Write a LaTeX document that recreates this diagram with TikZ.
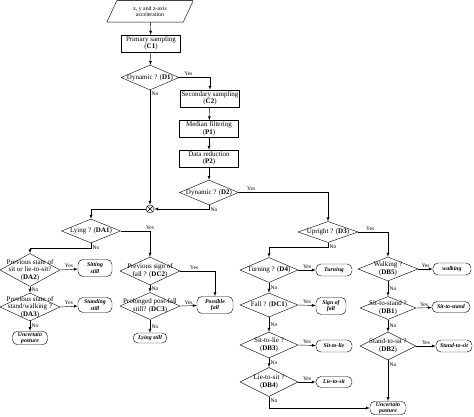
\documentclass[tikz,border=0pt]{standalone}
\usepackage{fontspec}
\setmainfont{Liberation Serif}
\usetikzlibrary{shapes.geometric}

\begin{document}
\begin{tikzpicture}[x=1pt, y=-1pt, >=latex, font=\fontsize{7}{7.5}\selectfont,
	box/.style={draw, inner sep=1pt, minimum width=59pt, minimum height=17pt, align=center},
	test/.style={diamond, draw, inner sep=0pt},
	leaf/.style={draw, rounded corners=5pt, inner sep=1pt, align=center, font=\fontsize{5.8}{6.2}\selectfont\bfseries\itshape},
	yn/.style={font=\fontsize{5.5}{5.5}\selectfont, inner sep=1.5pt}]
				\useasboundingbox (0,0) rectangle (474,417);
				% preprocessing
				\node[minimum width=76pt, minimum height=21pt, inner sep=1pt, align=center, font=\fontsize{5.8}{6.5}\selectfont] (In) at (150,11.5) {x, y and z-axis\\acceleration};
				\draw ([xshift=-5pt]In.south west) -- ([xshift=5pt]In.north west) ([xshift=5pt]In.north east) -- ([xshift=-5pt]In.south east) -- ([xshift=-5pt]In.south west);
				\draw[line width=1.2pt, black!75] ([xshift=5pt]In.north west) -- ([xshift=5pt]In.north east);
				\node[box] (C1) at (151,43.5) {Primary sampling\\(\textbf{C1})};
				\node[test, minimum width=58pt, minimum height=25pt, label={center:Dynamic ? (\textbf{D1})}] (D1) at (150,77.5) {};
				\node[box, minimum width=56pt] (C2) at (210,98.5) {Secondary sampling\\(\textbf{C2})};
				\node[box] (P1) at (209,129) {Median filtering\\(\textbf{P1})};
				\node[box] (P2) at (209,158.5) {Data reduction\\(\textbf{P2})};
				\node[test, minimum width=59pt, minimum height=25pt, label={center:Dynamic ? (\textbf{D2})}] (D2) at (209,192.5) {};
				\node[circle, draw, inner sep=0pt, minimum size=8pt] (X) at (150,209) {};
				\draw (X.north east) -- (X.south west) (X.north west) -- (X.south east);
				
				% static branch
				\node[test, minimum width=59pt, minimum height=24pt, label={center:Lying ? (\textbf{DA1})}] (DA1) at (91,231) {};
				\node[test, minimum width=60pt, minimum height=33pt, label={[align=center]center:Previous state of\\sit or lie-to-sit?\\(\textbf{DA2})}] (DA2) at (30,270) {};
				\node[test, minimum width=60pt, minimum height=28pt, label={[align=center]center:Previous state of\\stand/walking ?\\(\textbf{DA3})}] (DA3) at (30,307) {};
				\node[leaf, minimum width=34pt, minimum height=17pt] (sit) at (95,268) {Sitting\\still};
				\node[leaf, minimum width=34pt, minimum height=15pt] (stand) at (95,305) {Standing\\still};
				\node[leaf, minimum width=35pt, minimum height=13pt] (unc1) at (30,338) {Uncertain\\posture};
				\node[test, minimum width=60pt, minimum height=28pt, label={[align=center]center:Previous sign of\\fall ? (\textbf{DC2})}] (DC2) at (150,271) {};
				\node[test, minimum width=60pt, minimum height=27pt, label={[align=center]center:Prolonged post-fall\\still? (\textbf{DC3})}] (DC3) at (150,306) {};
				\node[leaf, minimum width=36pt, minimum height=17pt] (fall) at (215,305) {Possible\\fall};
				\node[leaf, minimum width=34pt, minimum height=10pt] (lie) at (150,338) {Lying still};
				
				% dynamic branch
				\node[test, minimum width=60pt, minimum height=21pt, label={center:Upright ? (\textbf{D3})}] (D3) at (328,232) {};
				\node[test, minimum width=58pt, minimum height=25pt, label={center:Turning ? (\textbf{D4})}] (D4) at (269,270) {};
				\node[leaf, minimum width=36pt, minimum height=12pt] (turn) at (334,270) {Turning};
				\node[test, minimum width=58pt, minimum height=24pt, label={center:Fall ? (\textbf{DC1})}] (DC1) at (269,305) {};
				\node[leaf, minimum width=30pt, minimum height=17pt] (sof) at (331,306) {Sign of\\fall};
				\node[test, minimum width=58pt, minimum height=26pt, label={[align=center]center:Sit-to-lie ?\\(\textbf{DB3})}] (DB3) at (269,345) {};
				\node[leaf, minimum width=36pt, minimum height=12pt] (stl) at (334,346) {Sit-to-lie};
				\node[test, minimum width=58pt, minimum height=29pt, label={[align=center]center:Lie-to-sit ?\\(\textbf{DB4})}] (DB4) at (269,382) {};
				\node[leaf, minimum width=36pt, minimum height=11pt] (lts) at (334,382) {Lie-to-sit};
				\node[test, minimum width=60pt, minimum height=24pt, label={[align=center]center:Walking ?\\(\textbf{DB5})}] (DB5) at (388,269) {};
				\node[leaf, minimum width=38pt, minimum height=12pt] (walk) at (452,269) {walking};
				\node[test, minimum width=56pt, minimum height=23pt, label={[align=center]center:Sit-to-stand ?\\(\textbf{DB1})}] (DB1) at (388,308) {};
				\node[leaf, minimum width=38pt, minimum height=11pt] (sts) at (451,307) {Sit-to-stand};
				\node[test, minimum width=56pt, minimum height=28pt, label={[align=center]center:Stand-to-sit ?\\(\textbf{DB2})}] (DB2) at (388,346) {};
				\node[leaf, minimum width=36pt, minimum height=12pt] (sts2) at (454,346) {Stand-to-sit};
				\node[leaf, minimum width=36pt, minimum height=13pt] (unc2) at (388,408) {Uncertain\\posture};
				
				% arrows
				\draw[->] (In) -- (C1);
				\draw[->] (C1) -- (D1);
				\draw[->] (D1.east) -| node[yn, above, pos=0.15] {Yes} (C2.north);
				\draw[->] (D1.south) -- node[yn, right, pos=0.03] {No} (X.north);
				\draw[->] (C2) -- (P1);
				\draw[->] (P1) -- (P2);
				\draw[->] (P2) -- (D2);
				\draw[->] (D2.east) -| node[yn, above, pos=0.07] {Yes} (D3.north);
				\draw[->] (D2.south) |- node[yn, below right, pos=0.1] {No} (X.east);
				\draw[->] (X.west) -| (DA1.north);
				\draw[->] (DA1.east) -| node[yn, above, pos=0.5] {Yes} (DC2.north);
				\draw[->] (DA1.south) -- ++(0,5) node[yn, right] {No} -| (DA2.north);
				\draw[->] (DA2.east) -- node[yn, above] {Yes} (sit);
				\draw[->] (DA2.south) -- node[yn, right] {No} (DA3.north);
				\draw[->] (DA3.east) -- node[yn, above] {Yes} (stand);
				\draw[->] (DA3.south) -- node[yn, right] {No} (unc1);
				\draw[->] (DC2.east) -| node[yn, above, pos=0.2] {Yes} (fall.north);
				\draw[->] (DC2.south) -- node[yn, right] {No} (DC3.north);
				\draw[->] (DC3.east) -- node[yn, above] {Yes} (fall);
				\draw[->] (DC3.south) -- node[yn, right] {No} (lie);
				\draw[->] (D3.east) -| node[yn, above, pos=0.2] {Yes} (DB5.north);
				\draw[->] (D3.south) -- ++(0,4) node[yn, right] {No} -| (D4.north);
				\draw[->] (D4.east) -- node[yn, above] {Yes} (turn);
				\draw[->] (D4.south) -- node[yn, right] {No} (DC1.north);
				\draw[->] (DC1.east) -- node[yn, above] {Yes} (sof);
				\draw[->] (DC1.south) -- node[yn, right] {No} (DB3.north);
				\draw[->] (DB3.east) -- node[yn, above] {Yes} (stl);
				\draw[->] (DB3.south) -- node[yn, right] {No} (DB4.north);
				\draw[->] (DB4.east) -- node[yn, above] {Yes} (lts);
				\draw[->] (DB4.south) |- node[yn, right, pos=0.2] {No} (unc2.west);
				\draw[->] (DB5.east) -- node[yn, above] {Yes} (walk);
				\draw[->] (DB5.south) -- node[yn, right] {No} (DB1.north);
				\draw[->] (DB1.east) -- node[yn, above] {Yes} (sts);
				\draw[->] (DB1.south) -- node[yn, right] {No} (DB2.north);
				\draw[->] (DB2.east) -- node[yn, above] {Yes} (sts2);
				\draw[->] (DB2.south) -- node[yn, right, pos=0.1] {No} (unc2);
		\end{tikzpicture}
\end{document}
